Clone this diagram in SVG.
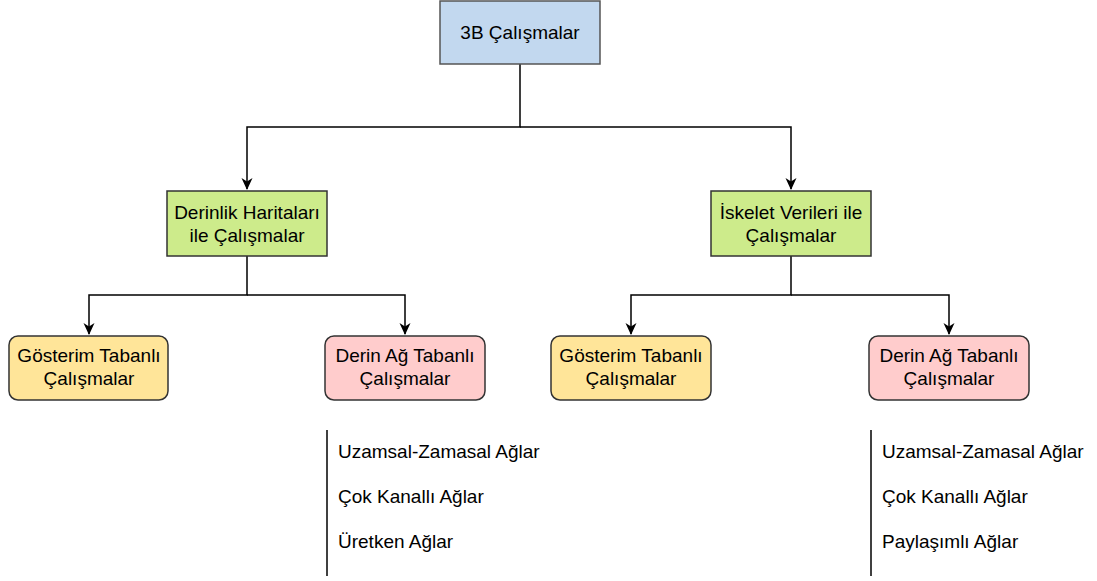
<svg xmlns="http://www.w3.org/2000/svg" width="1097" height="581" viewBox="0 0 1097 581">
  <style>
    text { font-family: "Liberation Sans", Arial, sans-serif; font-size: 19px; fill: #000; }
    .c { text-anchor: middle; }
    .box { stroke: #333; stroke-width: 1.5; }
    .root { fill: #c2d8ef; stroke: #555; stroke-width: 1.5; }
    .mid { fill: #cdeb8b; }
    .rep { fill: #ffe599; }
    .deep { fill: #ffcccc; }
    .edge { fill: none; stroke: #000; stroke-width: 1.5; }
    .bar { stroke: #000; stroke-width: 1.5; }
  </style>
  <defs>
    <marker id="arrow" markerWidth="12" markerHeight="12" refX="11" refY="6" orient="auto" markerUnits="userSpaceOnUse">
      <path d="M0,0.5 L12,6 L0,11.5 L3.5,6 Z" fill="#000"/>
    </marker>
  </defs>
  <rect width="1097" height="581" fill="#fff"/>

  <g id="connectors">
    <path class="edge" d="M520,64 V127 H247 V189" marker-end="url(#arrow)"/>
    <path class="edge" d="M520,127 H791 V189" marker-end="url(#arrow)"/>
    <path class="edge" d="M247,256 V295 H89 V334" marker-end="url(#arrow)"/>
    <path class="edge" d="M247,295 H405 V334" marker-end="url(#arrow)"/>
    <path class="edge" d="M791,256 V295 H631 V334" marker-end="url(#arrow)"/>
    <path class="edge" d="M791,295 H949 V334" marker-end="url(#arrow)"/>
  </g>

  <g id="root">
    <rect class="root" x="440" y="1" width="160" height="63"/>
    <text class="c" x="520" y="39">3B Çalışmalar</text>
  </g>

  <g id="depth">
    <rect class="box mid" x="167" y="191" width="160" height="65"/>
    <text class="c" x="247" y="219">Derinlik Haritaları</text>
    <text class="c" x="247" y="242">ile Çalışmalar</text>
  </g>

  <g id="skeleton">
    <rect class="box mid" x="711" y="191" width="160" height="65"/>
    <text class="c" x="791" y="219">İskelet Verileri ile</text>
    <text class="c" x="791" y="242">Çalışmalar</text>
  </g>

  <g id="depth-rep">
    <rect class="box rep" x="9" y="336" width="159" height="64" rx="9"/>
    <text class="c" x="89" y="362">Gösterim Tabanlı</text>
    <text class="c" x="89" y="385">Çalışmalar</text>
  </g>

  <g id="depth-deep">
    <rect class="box deep" x="325" y="336" width="160" height="64" rx="9"/>
    <text class="c" x="405" y="362">Derin Ağ Tabanlı</text>
    <text class="c" x="405" y="385">Çalışmalar</text>
  </g>

  <g id="skeleton-rep">
    <rect class="box rep" x="551" y="336" width="160" height="64" rx="9"/>
    <text class="c" x="631" y="362">Gösterim Tabanlı</text>
    <text class="c" x="631" y="385">Çalışmalar</text>
  </g>

  <g id="skeleton-deep">
    <rect class="box deep" x="869" y="336" width="160" height="64" rx="9"/>
    <text class="c" x="949" y="362">Derin Ağ Tabanlı</text>
    <text class="c" x="949" y="385">Çalışmalar</text>
  </g>

  <g id="depth-list">
    <line class="bar" x1="327" y1="430" x2="327" y2="576"/>
    <text x="338" y="458">Uzamsal-Zamasal Ağlar</text>
    <text x="338" y="503">Çok Kanallı Ağlar</text>
    <text x="338" y="548">Üretken Ağlar</text>
  </g>

  <g id="skeleton-list">
    <line class="bar" x1="871" y1="430" x2="871" y2="576"/>
    <text x="882" y="458">Uzamsal-Zamasal Ağlar</text>
    <text x="882" y="503">Çok Kanallı Ağlar</text>
    <text x="882" y="548">Paylaşımlı Ağlar</text>
  </g>
</svg>
